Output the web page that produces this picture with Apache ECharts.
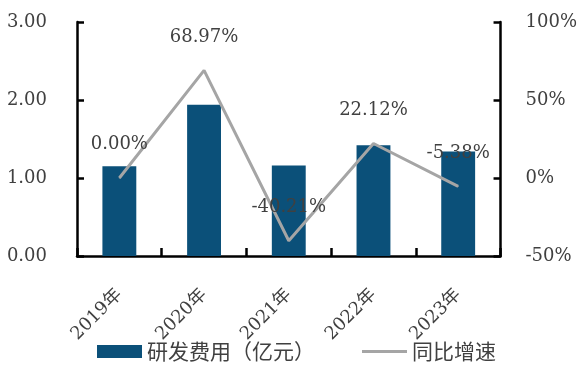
<!DOCTYPE html>
<html>
<head>
<meta charset="utf-8">
<script src="https://cdn.jsdelivr.net/npm/echarts@6/dist/echarts.min.js"></script>
<style>
  html, body { margin: 0; padding: 0; background: #fff; }
  #chart { width: 580px; height: 365px; }
</style>
</head>
<body>
<div id="chart"></div>
<script>
// R&D spending (100M CNY) and year-on-year growth
const years = ['2019年', '2020年', '2021年', '2022年', '2023年'];
const rdExpense = [1.15, 1.94, 1.16, 1.42, 1.34];
const yoyGrowth = [0.00, 68.97, -40.21, 22.12, -5.38];
const seriesNames = ['研发费用（亿元）', '同比增速'];

const numFont = 'DejaVu Serif, Noto Sans CJK SC, serif';
const cjkFont = 'Noto Sans CJK SC, sans-serif';
const textColor = '#404040';
const barColor = '#0B5079';
const lineColor = '#A5A5A5';

const chart = echarts.init(document.getElementById('chart'), null, { renderer: 'canvas' });
chart.setOption({
  animation: false,
  grid: { left: 77, right: 77, top: 22, bottom: 109 },
  legend: {
    left: 92,
    top: 336,
    itemWidth: 45,
    itemHeight: 13,
    itemGap: 47,
    textStyle: { fontFamily: cjkFont, fontSize: 21, color: textColor },
    data: [
      { name: seriesNames[0], icon: 'rect' },
      { name: seriesNames[1], icon: 'path://M0,0 L45,0 L45,3 L0,3 Z' }
    ]
  },
  xAxis: {
    type: 'category',
    data: years,
    axisLine: { show: true, lineStyle: { color: '#000', width: 2.5 } },
    axisTick: { show: true, inside: true, length: 8, lineStyle: { color: '#000', width: 2.5 } },
    axisLabel: {
      rotate: 45,
      margin: 36,
      fontFamily: numFont,
      fontSize: 18,
      color: textColor
    }
  },
  yAxis: [
    {
      type: 'value',
      min: 0, max: 3, interval: 1,
      axisLine: { show: true, lineStyle: { color: '#000', width: 2.5 } },
      axisTick: { show: true, inside: true, length: 7, lineStyle: { color: '#000', width: 2.5 } },
      splitLine: { show: false },
      axisLabel: {
        margin: 30,
        fontFamily: numFont,
        fontSize: 18,
        color: textColor,
        formatter: v => v.toFixed(2)
      }
    },
    {
      type: 'value',
      min: -50, max: 100, interval: 50,
      axisLine: { show: true, lineStyle: { color: '#000', width: 2.5 } },
      axisTick: { show: true, inside: true, length: 7, lineStyle: { color: '#000', width: 2.5 } },
      splitLine: { show: false },
      axisLabel: {
        margin: 25,
        fontFamily: numFont,
        fontSize: 18,
        color: textColor,
        formatter: v => v + '%'
      }
    }
  ],
  series: [
    {
      name: seriesNames[0],
      type: 'bar',
      data: rdExpense,
      barWidth: '40%',
      itemStyle: { color: barColor }
    },
    {
      name: seriesNames[1],
      type: 'line',
      yAxisIndex: 1,
      data: yoyGrowth,
      symbol: 'circle',
      symbolSize: 1,
      itemStyle: { color: lineColor },
      lineStyle: { color: lineColor, width: 3 },
      label: {
        show: true,
        position: 'top',
        distance: 24,
        fontFamily: numFont,
        fontSize: 18,
        color: textColor,
        formatter: p => p.value.toFixed(2) + '%'
      }
    }
  ]
});
</script>
</body>
</html>
